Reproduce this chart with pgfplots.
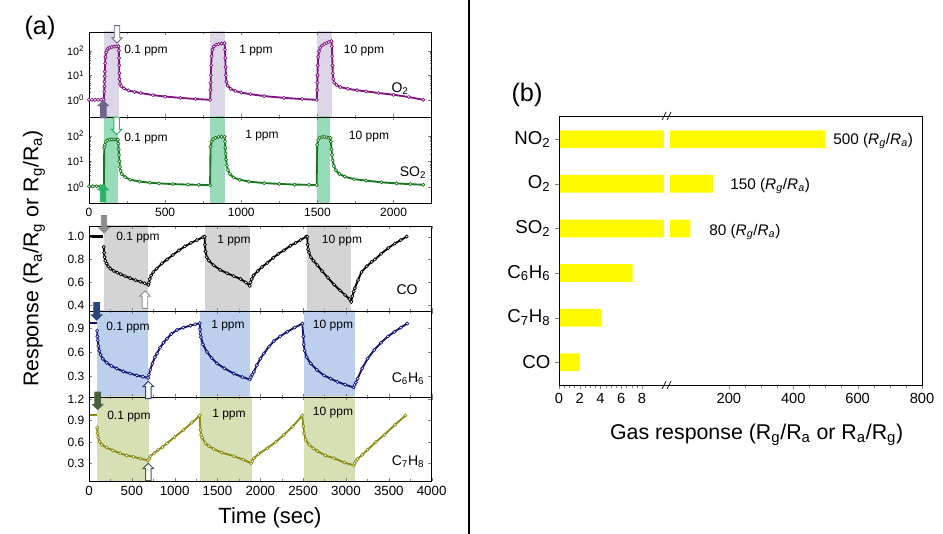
\documentclass[border=0pt]{standalone}
\usepackage{pgfplots}
\pgfplotsset{compat=1.18}
\usepackage{fontspec}
\setmainfont{Liberation Sans}
\usetikzlibrary{shapes.arrows}
\definecolor{oxp}{RGB}{128,20,128}
\definecolor{oxs}{RGB}{220,214,232}
\definecolor{oxa}{RGB}{110,100,140}
\definecolor{sog}{RGB}{25,120,30}
\definecolor{sos}{RGB}{150,220,185}
\definecolor{soa}{RGB}{40,180,100}
\definecolor{cos}{RGB}{212,212,212}
\definecolor{coa}{RGB}{140,140,140}
\definecolor{bzn}{RGB}{20,20,120}
\definecolor{bzs}{RGB}{188,208,238}
\definecolor{bza}{RGB}{40,70,120}
\definecolor{tlo}{RGB}{140,140,20}
\definecolor{tls}{RGB}{214,224,180}
\definecolor{tla}{RGB}{70,95,60}
\definecolor{ybar}{RGB}{255,250,0}
\pgfplotsset{
  panel/.style={scale only axis, width=257pt, xmin=0, axis on top,
    tick label style={font=\fontsize{9}{10}\selectfont},
    /pgf/number format/assume math mode=true, /pgf/number format/1000 sep={},
    scaled ticks=false, major tick length=2.5pt, minor tick length=1.5pt,
    minor x tick num=1, line width=0.5pt},
  crv/.style={mark=*, mark size=1.2pt, mark options={fill=white, line width=0.5pt, solid}, line width=1.4pt},
  shade/.style={draw=none, forget plot, mark=none},
  dash/.style={line width=1.8pt, mark=none},
}
\tikzset{arr/.style={single arrow, minimum height=13pt, inner xsep=0pt, inner ysep=1.7pt, single arrow head extend=1.9pt, line width=0.7pt}}
\begin{document}
\begin{tikzpicture}
\path[use as bounding box] (0pt,0pt) rectangle (707.25pt,-400.5pt);
\draw[line width=0.8pt] (351.75pt,0pt) -- (351.75pt,-400.5pt);

% ---------- O2 ----------
\begin{axis}[panel, at={(66.75pt,-24pt)}, anchor=north west, height=63.75pt, xmax=2250,
  ymode=log, ymin=0.2, ymax=575, xtick={0,500,...,2000}, xticklabels=\empty,
  ytick={1,10,100}, yticklabels={10\textsuperscript{0},10\textsuperscript{1},10\textsuperscript{2}},
  yticklabel style={font=\fontsize{8}{9}\selectfont}]
\addplot[shade, fill=oxs] coordinates {(100,0.01) (196,0.01) (196,1e4) (100,1e4)};
\addplot[shade, fill=oxs] coordinates {(797,0.01) (891,0.01) (891,1e4) (797,1e4)};
\addplot[shade, fill=oxs] coordinates {(1497,0.01) (1596,0.01) (1596,1e4) (1497,1e4)};
\addplot[crv, color=oxp] coordinates {(0,1.0) (20,1.0) (40,1.0) (60,1.0) (80,1.0) (97,1.0) (100,2.2) (101,3.5) (102,5.5) (103,9) (104,14) (106,30) (108,55) (112,85) (118,105) (125,120) (135,132) (150,140) (165,146) (180,150) (194,152) (196,100) (197,50) (198,25) (199,12) (201,7) (204,4.5) (212,3.6) (230,2.9) (260,2.4) (300,2.1) (340,1.9) (420,1.55) (500,1.36) (600,1.2) (700,1.08) (795,1.0) (798,2.5) (799,5) (800,10) (802,25) (805,60) (810,110) (820,150) (835,175) (850,185) (870,195) (890,200) (893,110) (895,50) (897,22) (899,10) (902,5.5) (910,3.8) (930,2.8) (960,2.3) (1000,1.95) (1060,1.7) (1150,1.42) (1280,1.2) (1400,1.07) (1495,1.0) (1498,2.5) (1499,5) (1500,10) (1502,25) (1505,55) (1510,95) (1518,130) (1530,160) (1545,185) (1560,205) (1575,225) (1592,245) (1595,150) (1597,60) (1599,25) (1601,12) (1604,7) (1610,5) (1625,4) (1650,3.3) (1700,2.8) (1760,2.45) (1820,2.2) (1900,1.9) (2000,1.6) (2100,1.3) (2195,1.0)};
\end{axis}

% ---------- SO2 ----------
\begin{axis}[panel, at={(66.75pt,-87.75pt)}, anchor=north west, height=64.5pt, xmax=2250,
  ymode=log, ymin=0.23, ymax=560, xtick={0,500,...,2000},
  ytick={1,10,100}, yticklabels={10\textsuperscript{0},10\textsuperscript{1},10\textsuperscript{2}},
  yticklabel style={font=\fontsize{8}{9}\selectfont}]
\addplot[shade, fill=sos] coordinates {(100,0.01) (190,0.01) (190,1e4) (100,1e4)};
\addplot[shade, fill=sos] coordinates {(797,0.01) (891,0.01) (891,1e4) (797,1e4)};
\addplot[shade, fill=sos] coordinates {(1497,0.01) (1585,0.01) (1585,1e4) (1497,1e4)};
\addplot[crv, color=sog] coordinates {(0,1.05) (25,1.05) (50,1.05) (75,1.05) (98,1.05) (100,35) (104,45) (110,60) (120,68) (135,72) (150,73) (165,73) (180,72) (190,72) (193,50) (195,30) (197,18) (200,10) (203,6) (207,4.3) (215,3.2) (238,2.4) (270,1.9) (333,1.6) (400,1.45) (459,1.36) (550,1.28) (650,1.22) (721,1.2) (795,1.15) (798,38) (805,60) (815,75) (830,85) (850,92) (870,94) (890,93) (893,60) (895,35) (897,20) (900,12) (905,7) (912,4.5) (925,3.2) (950,2.3) (990,1.9) (1050,1.6) (1150,1.4) (1250,1.3) (1350,1.22) (1445,1.2) (1495,1.17) (1498,45) (1505,70) (1515,85) (1530,92) (1545,92) (1560,88) (1575,85) (1585,84) (1588,60) (1592,30) (1596,18) (1600,11) (1608,6.5) (1620,4.5) (1645,3.2) (1680,2.5) (1740,2.0) (1820,1.75) (1920,1.5) (2020,1.36) (2110,1.27) (2195,1.2)};
\end{axis}

% ---------- CO ----------
\begin{axis}[panel, at={(66.75pt,-169.5pt)}, anchor=north west, height=63.75pt, xmax=4000,
  ymin=0.35, ymax=1.093, xtick={0,500,...,4000}, xticklabels=\empty,
  ytick={0.4,0.6,0.8,1.0}, yticklabels={0.4,0.6,0.8,1.0}]
\addplot[shade, fill=cos] coordinates {(179,-1) (694,-1) (694,5) (179,5)};
\addplot[shade, fill=cos] coordinates {(1350,-1) (1877,-1) (1877,5) (1350,5)};
\addplot[shade, fill=cos] coordinates {(2549,-1) (3064,-1) (3064,5) (2549,5)};
\addplot[dash, color=black] coordinates {(0,1.0) (40,1.0) (80,1.0) (120,1.0) (165,1.0)};
\addplot[crv, color=black] coordinates {(172,0.91) (176,0.86) (182,0.82) (190,0.79) (205,0.765) (225,0.74) (250,0.72) (290,0.70) (330,0.685) (370,0.672) (420,0.655) (480,0.637) (540,0.62) (600,0.606) (650,0.592) (694,0.578) (700,0.60) (710,0.63) (725,0.66) (750,0.69) (790,0.72) (850,0.765) (910,0.80) (980,0.84) (1050,0.88) (1120,0.915) (1190,0.945) (1260,0.97) (1330,0.995) (1350,1.0) (1353,0.93) (1360,0.87) (1375,0.82) (1400,0.79) (1455,0.75) (1530,0.71) (1612,0.68) (1690,0.655) (1768,0.63) (1830,0.60) (1877,0.57) (1885,0.60) (1900,0.63) (1920,0.66) (1970,0.70) (2020,0.735) (2080,0.77) (2150,0.815) (2210,0.85) (2275,0.88) (2350,0.92) (2410,0.945) (2470,0.97) (2535,1.0) (2548,1.0) (2552,0.93) (2558,0.89) (2568,0.86) (2590,0.82) (2620,0.79) (2666,0.75) (2720,0.70) (2790,0.64) (2861,0.58) (2930,0.53) (2990,0.49) (3040,0.455) (3062,0.43) (3075,0.48) (3090,0.52) (3103,0.55) (3140,0.62) (3181,0.69) (3240,0.74) (3300,0.78) (3337,0.80) (3410,0.85) (3493,0.90) (3570,0.94) (3640,0.97) (3708,1.0)};
\end{axis}

% ---------- C6H6 ----------
\begin{axis}[panel, at={(66.75pt,-233.25pt)}, anchor=north west, height=64.5pt, xmax=4000,
  ymin=0.04, ymax=1.118, xtick={0,500,...,4000}, xticklabels=\empty,
  ytick={0.3,0.6,0.9}, yticklabels={0.3,0.6,0.9}]
\addplot[shade, fill=bzs] coordinates {(90,-1) (687,-1) (687,5) (90,5)};
\addplot[shade, fill=bzs] coordinates {(1300,-1) (1885,-1) (1885,5) (1300,5)};
\addplot[shade, fill=bzs] coordinates {(2510,-1) (3103,-1) (3103,5) (2510,5)};
\addplot[dash, color=bzn] coordinates {(0,0.97) (30,0.97) (60,0.97) (88,0.97)};
\addplot[crv, color=bzn] coordinates {(95,0.87) (98,0.80) (102,0.75) (110,0.68) (120,0.62) (135,0.57) (160,0.52) (207,0.47) (260,0.43) (324,0.397) (400,0.36) (480,0.334) (560,0.31) (630,0.295) (690,0.28) (700,0.32) (715,0.38) (740,0.46) (770,0.54) (793,0.585) (830,0.66) (870,0.72) (910,0.77) (960,0.83) (1027,0.88) (1100,0.91) (1183,0.935) (1240,0.95) (1292,0.965) (1296,0.89) (1300,0.83) (1307,0.79) (1330,0.70) (1377,0.605) (1430,0.53) (1495,0.46) (1580,0.40) (1690,0.334) (1790,0.29) (1877,0.26) (1890,0.29) (1905,0.32) (1924,0.355) (1960,0.44) (2000,0.52) (2041,0.585) (2100,0.67) (2158,0.74) (2230,0.80) (2314,0.857) (2400,0.91) (2490,0.96) (2502,0.80) (2507,0.70) (2517,0.62) (2540,0.54) (2588,0.46) (2660,0.38) (2744,0.31) (2820,0.27) (2900,0.23) (2990,0.195) (3088,0.16) (3100,0.19) (3115,0.22) (3135,0.27) (3190,0.40) (3252,0.52) (3330,0.63) (3408,0.72) (3490,0.80) (3565,0.857) (3640,0.91) (3713,0.96)};
\end{axis}

% ---------- C7H8 ----------
\begin{axis}[panel, at={(66.75pt,-297.75pt)}, anchor=north west, height=63pt, xmax=4000,
  ymin=0.05, ymax=1.232, xtick={0,500,...,4000},
  xticklabel style={font=\fontsize{10}{11}\selectfont},
  ytick={0.3,0.6,0.9,1.2}, yticklabels={0.3,0.6,0.9,1.2}]
\addplot[shade, fill=tls] coordinates {(94,-1) (699,-1) (699,5) (94,5)};
\addplot[shade, fill=tls] coordinates {(1300,-1) (1905,-1) (1905,5) (1300,5)};
\addplot[shade, fill=tls] coordinates {(2510,-1) (3107,-1) (3107,5) (2510,5)};
\addplot[dash, color=tlo] coordinates {(0,0.975) (30,0.975) (60,0.975) (88,0.975)};
\addplot[crv, color=tlo] coordinates {(95,0.80) (100,0.72) (108,0.66) (125,0.60) (150,0.56) (207,0.52) (280,0.48) (363,0.44) (440,0.41) (519,0.39) (600,0.365) (687,0.34) (700,0.36) (715,0.40) (760,0.44) (810,0.49) (860,0.53) (910,0.58) (1000,0.67) (1105,0.77) (1200,0.87) (1292,0.97) (1300,0.77) (1310,0.70) (1320,0.66) (1360,0.58) (1400,0.54) (1455,0.50) (1550,0.45) (1690,0.40) (1800,0.35) (1893,0.30) (1905,0.33) (1924,0.37) (1980,0.43) (2080,0.51) (2180,0.60) (2275,0.70) (2380,0.82) (2490,0.97) (2502,0.82) (2510,0.72) (2529,0.63) (2570,0.56) (2620,0.51) (2666,0.47) (2760,0.41) (2861,0.37) (2980,0.31) (3090,0.27) (3100,0.30) (3115,0.33) (3135,0.36) (3190,0.42) (3252,0.49) (3350,0.60) (3447,0.70) (3570,0.84) (3693,0.97)};
\end{axis}

% panel (a) annotations
\begin{scope}[every node/.style={font=\fontsize{9}{10}\selectfont}]
\node at (109.5pt,-38pt) {0.1 ppm};
\node at (192pt,-38pt) {1 ppm};
\node at (273pt,-38pt) {10 ppm};
\node at (109.5pt,-104.25pt) {0.1 ppm};
\node at (196.5pt,-102pt) {1 ppm};
\node at (276.75pt,-102.75pt) {10 ppm};
\node at (103.5pt,-178.5pt) {0.1 ppm};
\node at (175.5pt,-180.75pt) {1 ppm};
\node at (256.5pt,-180.75pt) {10 ppm};
\node at (96pt,-246pt) {0.1 ppm};
\node at (171pt,-244.5pt) {1 ppm};
\node at (249.75pt,-244.5pt) {10 ppm};
\node at (96.75pt,-312.75pt) {0.1 ppm};
\node at (171.75pt,-311.25pt) {1 ppm};
\node at (249.75pt,-309.75pt) {10 ppm};
\end{scope}
\begin{scope}[every node/.style={font=\fontsize{10.5}{12}\selectfont}]
\node at (300pt,-66.75pt) {O\textsubscript{2}};
\node at (309.75pt,-129.75pt) {SO\textsubscript{2}};
\node at (305.25pt,-217.5pt) {CO};
\node at (306pt,-284.25pt) {C\textsubscript{6}H\textsubscript{6}};
\node at (306pt,-346.5pt) {C\textsubscript{7}H\textsubscript{8}};
\end{scope}
% arrows
\node[arr, draw=oxa, fill=white, rotate=-90] at (87.75pt,-24.75pt) {};
\node[arr, draw=oxa, fill=oxa, rotate=90] at (77.5pt,-82.9pt) {};
\node[arr, draw=soa, fill=white, rotate=-90] at (87.5pt,-93.4pt) {};
\node[arr, draw=soa, fill=soa, rotate=90] at (77.25pt,-146pt) {};
\node[arr, draw=coa, fill=coa, rotate=-90] at (78pt,-167.25pt) {};
\node[arr, draw=coa, fill=white, rotate=90] at (108.75pt,-225.75pt) {};
\node[arr, draw=bza, fill=bza, rotate=-90] at (72.5pt,-232.5pt) {};
\node[arr, draw=bza, fill=white, rotate=90] at (111.25pt,-293.5pt) {};
\node[arr, draw=tla, fill=tla, rotate=-90] at (73.25pt,-299.6pt) {};
\node[arr, draw=tla, fill=white, rotate=90] at (111.25pt,-355pt) {};

\node[font=\fontsize{19}{22}\selectfont] at (30pt,-21pt) {(a)};
\node[font=\fontsize{16.5}{19}\selectfont] at (202.5pt,-388.5pt) {Time (sec)};
\node[font=\fontsize{16}{19}\selectfont, rotate=90] at (25.5pt,-194pt) {Response (R\textsubscript{a}/R\textsubscript{g} or R\textsubscript{g}/R\textsubscript{a})};

% ---------- panel (b) ----------
\begin{axis}[name=bl, scale only axis, at={(419.25pt,-87pt)}, anchor=north west,
  width=78.75pt, height=201.75pt, xmin=0, xmax=10.12, ymin=-0.51, ymax=5.52,
  xbar, bar width=13.3pt, axis line style={draw=none}, tick align=outside,
  xtick pos=left, ytick pos=left, xtick={0,2,4,6,8}, minor x tick num=3,
  ytick={0,1,2,3,4,5},
  yticklabels={CO, C\textsubscript{7}H\textsubscript{8}, C\textsubscript{6}H\textsubscript{6}, SO\textsubscript{2}, O\textsubscript{2}, NO\textsubscript{2}},
  yticklabel style={font=\fontsize{14}{16}\selectfont},
  xticklabel style={font=\fontsize{11}{12}\selectfont},
  /pgf/number format/assume math mode=true, major tick length=3pt, minor tick length=2pt]
\addplot[fill=ybar, draw=none] coordinates {(2.0,0) (4.1,1) (7.1,2) (80,3) (150,4) (500,5)};
\end{axis}
\begin{axis}[name=br, scale only axis, at={(502.5pt,-87pt)}, anchor=north west,
  width=189pt, height=201.75pt, xmin=17, xmax=800, ymin=-0.51, ymax=5.52,
  xbar, bar width=13.3pt, axis line style={draw=none}, tick align=outside,
  xtick pos=left, ytick=\empty, xtick={200,400,600,800}, minor x tick num=3,
  xticklabel style={font=\fontsize{11}{12}\selectfont},
  /pgf/number format/assume math mode=true, major tick length=3pt, minor tick length=2pt]
\addplot[fill=ybar, draw=none] coordinates {(80,3) (150,4) (500,5)};
\end{axis}
\draw[line width=0.6pt] (bl.south west) rectangle (br.north east);
\draw[line width=0.5pt] (496.5pt,-90pt) -- (499.5pt,-84pt);
\draw[line width=0.5pt] (500.25pt,-90pt) -- (503.25pt,-84pt);
\draw[line width=0.5pt] (496.5pt,-291.75pt) -- (499.5pt,-285.75pt);
\draw[line width=0.5pt] (500.25pt,-291.75pt) -- (503.25pt,-285.75pt);
\begin{scope}[every node/.style={font=\fontsize{11.5}{13}\selectfont, anchor=west, inner sep=0pt}]
\node at (624.75pt,-105.75pt) {500 (\textit{R}\textsubscript{\textit{g}}/\textit{R}\textsubscript{\textit{a}})};
\node at (547.5pt,-139.5pt) {150 (\textit{R}\textsubscript{\textit{g}}/\textit{R}\textsubscript{\textit{a}})};
\node at (531.75pt,-174pt) {80 (\textit{R}\textsubscript{\textit{g}}/\textit{R}\textsubscript{\textit{a}})};
\end{scope}
\node[font=\fontsize{19}{22}\selectfont] at (395.25pt,-71.25pt) {(b)};
\node[font=\fontsize{16}{19}\selectfont] at (567.5pt,-326.25pt) {Gas response (R\textsubscript{g}/R\textsubscript{a} or R\textsubscript{a}/R\textsubscript{g})};
\end{tikzpicture}
\end{document}
